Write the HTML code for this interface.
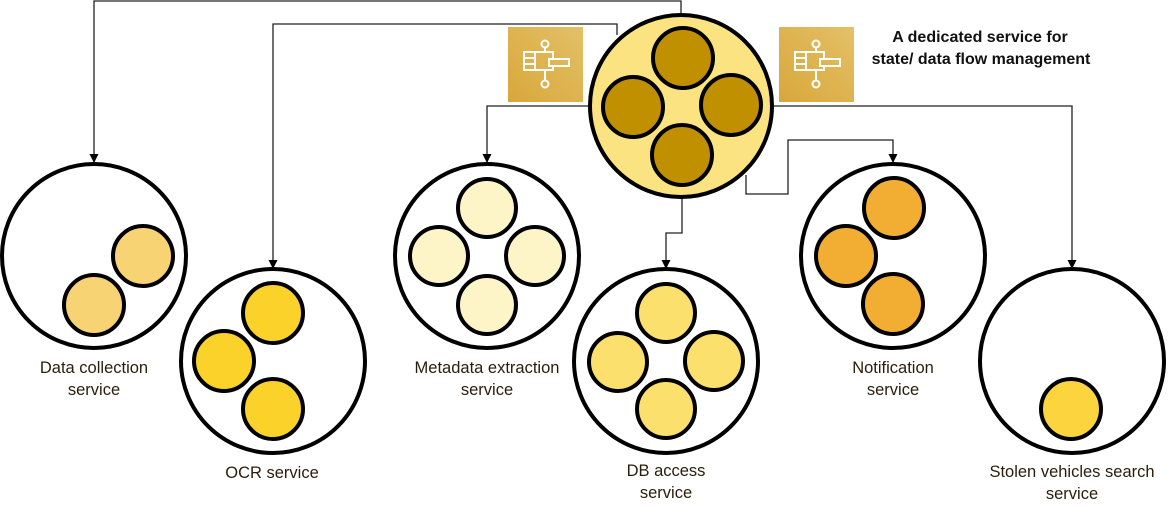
<!DOCTYPE html>
<html><head><meta charset="utf-8"><style>
html,body{margin:0;padding:0;background:#fff;}
svg{display:block;}
text{font-family:"Liberation Sans",sans-serif;}
</style></head><body>
<svg width="1172" height="516" viewBox="0 0 1172 516" xmlns="http://www.w3.org/2000/svg">
<defs>
<marker id="a" markerWidth="10" markerHeight="10" refX="9" refY="4.5" orient="auto" markerUnits="userSpaceOnUse">
<path d="M0,0 L9,4.5 L0,9 Z" fill="#000"/></marker>
<linearGradient id="g" x1="1" y1="0" x2="0" y2="1"><stop offset="0" stop-color="#e4c068"/><stop offset="1" stop-color="#d8a73a"/></linearGradient>
<g id="ic">
<rect width="75" height="75" fill="url(#g)"/>
<g fill="none" stroke="#fff" stroke-width="2">
<circle cx="37" cy="17" r="3.5"/><circle cx="37" cy="57" r="3.5"/>
<path d="M37 20.5 V25 H16 V43 H37 V53.5 M37 43 H45 V39 M37 25 H45 V32"/>
<path d="M16 31 H27 M16 37 H27 M27 25 V43"/>
<rect x="41" y="32" width="20" height="7"/>
</g></g>
</defs>
<g fill="none" stroke="#222" stroke-width="1.3">
<path d="M681 14 V1 H94 V163" marker-end="url(#a)"/>
<path d="M617 35 V24 H273 V269" marker-end="url(#a)"/>
<path d="M590 106 H487 V163" marker-end="url(#a)"/>
<path d="M682 197 V233 H666 V269" marker-end="url(#a)"/>
<path d="M773 106 H1072 V269" marker-end="url(#a)"/>
<path d="M746 175 V194 H788 V140 H893 V163" marker-end="url(#a)"/>
</g>
<use href="#ic" x="508" y="27"/>
<use href="#ic" x="779" y="27"/>
<g stroke="#000" stroke-width="4">
<circle cx="681" cy="106" r="91" fill="#fbe381"/>
<g fill="#c09000"><circle cx="683" cy="58" r="30"/><circle cx="633" cy="107" r="30"/><circle cx="731" cy="105" r="30"/><circle cx="682" cy="155" r="30"/></g>
<g fill="#fff">
<circle cx="94" cy="256" r="92"/><circle cx="273" cy="361" r="92"/><circle cx="487" cy="256" r="92"/>
<circle cx="666" cy="361" r="92"/><circle cx="893" cy="256" r="92"/><circle cx="1072" cy="361" r="92"/>
</g>
<g fill="#f7d374"><circle cx="143" cy="256" r="30"/><circle cx="94" cy="305" r="30"/></g>
<g fill="#fbd22a"><circle cx="273" cy="313" r="30"/><circle cx="224" cy="361" r="30"/><circle cx="273" cy="409" r="30"/></g>
<g fill="#fdf4c8"><circle cx="487" cy="208" r="29"/><circle cx="439" cy="256" r="29"/><circle cx="535" cy="256" r="29"/><circle cx="487" cy="305" r="29"/></g>
<g fill="#fbe06e"><circle cx="666" cy="313" r="29"/><circle cx="618" cy="362" r="29"/><circle cx="714" cy="361" r="29"/><circle cx="666" cy="409" r="29"/></g>
<g fill="#f1ae33"><circle cx="894" cy="208" r="30"/><circle cx="846" cy="256" r="30"/><circle cx="893" cy="304" r="30"/></g>
<circle cx="1071" cy="409" r="30" fill="#fcd43e"/>
</g>
<g font-size="16.5" fill="#2a1d0a" text-anchor="middle">
<text x="94" y="373">Data collection</text><text x="94" y="395">service</text>
<text x="272" y="478">OCR service</text>
<text x="487" y="373">Metadata extraction</text><text x="487" y="395">service</text>
<text x="666" y="476">DB access</text><text x="666" y="498">service</text>
<text x="893" y="373">Notification</text><text x="893" y="395">service</text>
<text x="1072" y="477">Stolen vehicles search</text><text x="1072" y="499">service</text>
</g>
<g font-size="16" font-weight="bold" fill="#111" text-anchor="middle">
<text x="980" y="42">A dedicated service for</text>
<text x="981" y="64">state/ data flow management</text>
</g>
</svg>
</body></html>
